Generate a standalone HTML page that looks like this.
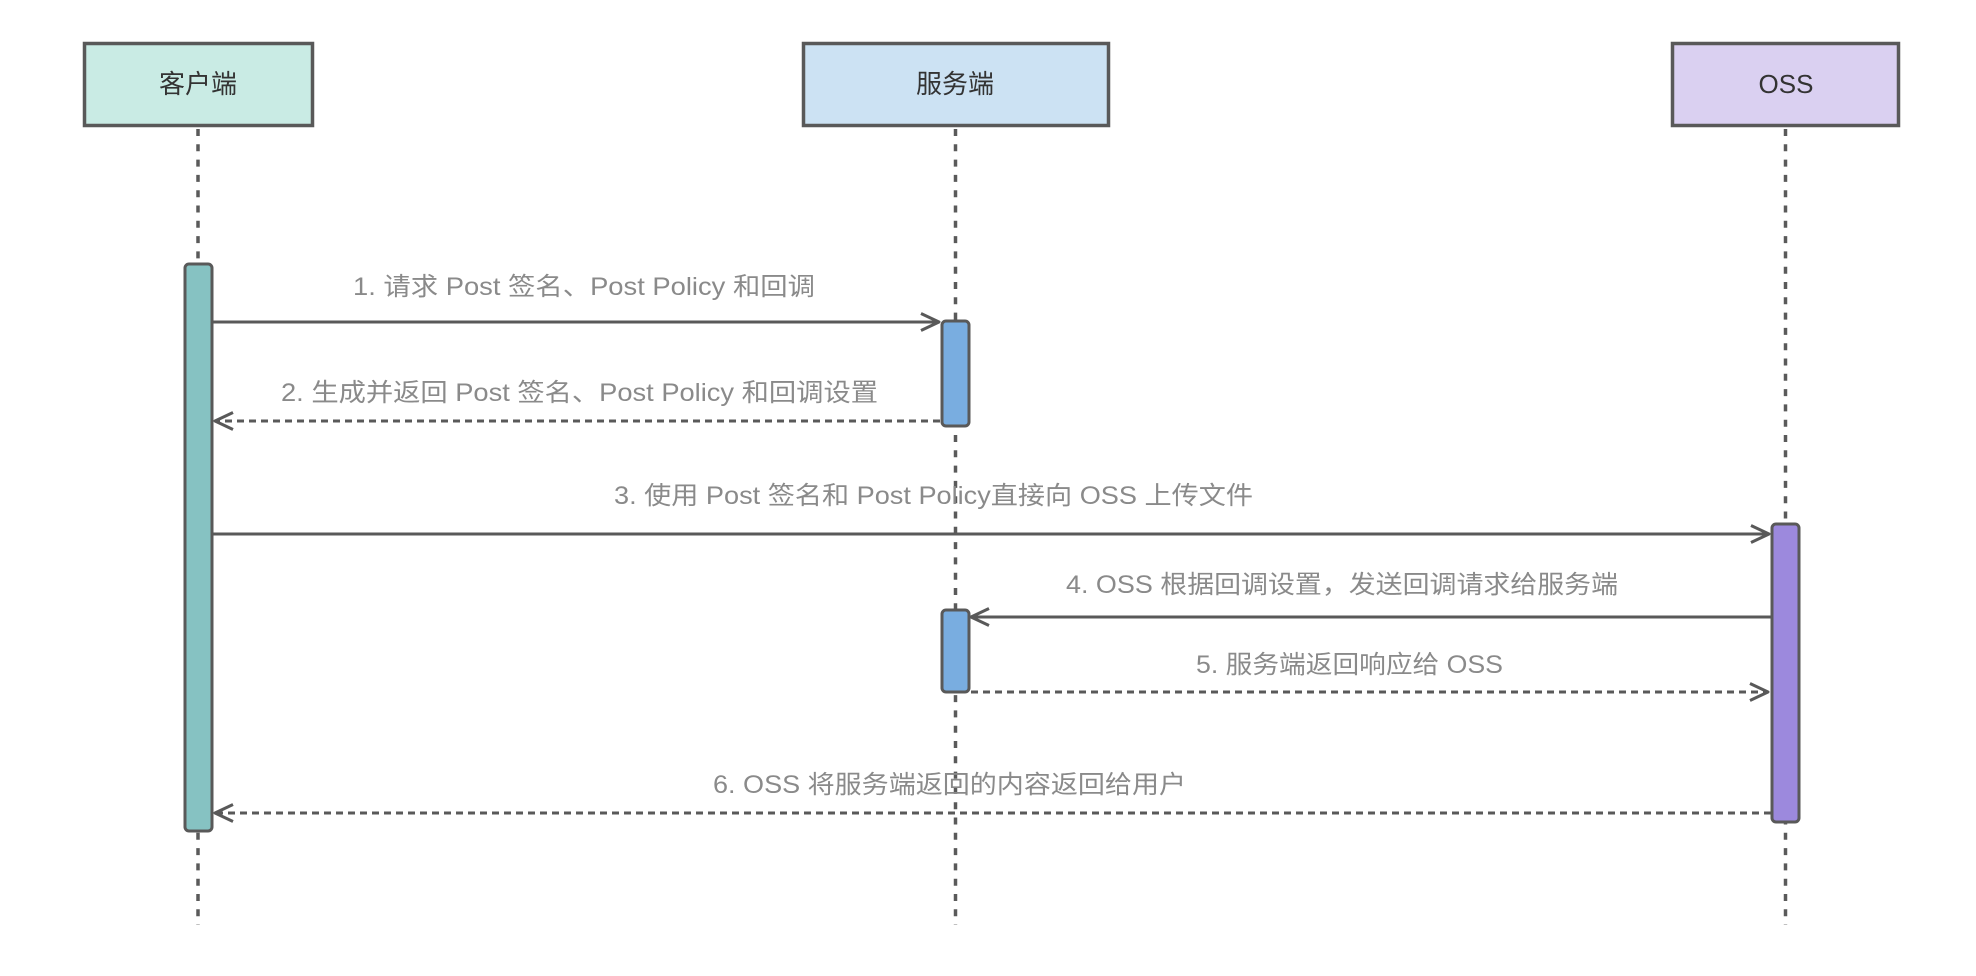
<!DOCTYPE html>
<html>
<head>
<meta charset="utf-8">
<style>
  html, body { margin: 0; padding: 0; background: #ffffff; }
  body { width: 1976px; height: 976px; overflow: hidden; }
  svg { display: block; }
  .lbl { font-family: "Liberation Sans", "Noto Sans CJK SC", sans-serif; font-size: 25px; fill: #8a8a8a; }
  .box { font-family: "Liberation Sans", "Noto Sans CJK SC", sans-serif; font-size: 26px; fill: #333333; }
</style>
</head>
<body>
<svg width="1976" height="976" viewBox="0 0 1976 976" xmlns="http://www.w3.org/2000/svg">
  <rect x="0" y="0" width="1976" height="976" fill="#ffffff"/>

  <!-- Participant boxes -->
  <rect x="84.5" y="43.5" width="228" height="82" fill="#c9ebe4" stroke="#595959" stroke-width="3.5"/>
  <rect x="803.5" y="43.5" width="305" height="82" fill="#cce2f3" stroke="#595959" stroke-width="3.5"/>
  <rect x="1672.5" y="43.5" width="226" height="82" fill="#dad0f1" stroke="#595959" stroke-width="3.5"/>

  <text class="box" x="198" y="93" text-anchor="middle">客户端</text>
  <text class="box" x="955" y="93" text-anchor="middle">服务端</text>
  <text class="box" x="1786" y="93" text-anchor="middle">OSS</text>

  <!-- Lifelines -->
  <g stroke="#5a5a5a" stroke-width="3.5" stroke-dasharray="7 8.3" fill="none">
    <line x1="198" y1="129" x2="198" y2="925"/>
    <line x1="955.5" y1="129" x2="955.5" y2="925"/>
    <line x1="1785.5" y1="129" x2="1785.5" y2="925"/>
  </g>

  <!-- Labels -->
  <text class="lbl" x="353" y="295" textLength="462" lengthAdjust="spacingAndGlyphs">1. 请求 Post 签名、Post Policy 和回调</text>
  <text class="lbl" x="281" y="401" textLength="597" lengthAdjust="spacingAndGlyphs">2. 生成并返回 Post 签名、Post Policy 和回调设置</text>
  <text class="lbl" x="614" y="504" textLength="639" lengthAdjust="spacingAndGlyphs">3. 使用 Post 签名和 Post Policy直接向 OSS 上传文件</text>
  <text class="lbl" x="1066" y="593" textLength="552" lengthAdjust="spacingAndGlyphs">4. OSS 根据回调设置，发送回调请求给服务端</text>
  <text class="lbl" x="1196" y="673" textLength="307" lengthAdjust="spacingAndGlyphs">5. 服务端返回响应给 OSS</text>
  <text class="lbl" x="713" y="793" textLength="473" lengthAdjust="spacingAndGlyphs">6. OSS 将服务端返回的内容返回给用户</text>

  <!-- Activation bars -->
  <rect x="185" y="264" width="27" height="567" rx="4" ry="4" fill="#86c2c2" stroke="#595959" stroke-width="3"/>
  <rect x="942" y="321" width="27" height="105" rx="4" ry="4" fill="#79ade0" stroke="#595959" stroke-width="3"/>
  <rect x="942" y="610" width="27" height="82" rx="4" ry="4" fill="#79ade0" stroke="#595959" stroke-width="3"/>
  <rect x="1772" y="524" width="27" height="298" rx="4" ry="4" fill="#9c89dd" stroke="#595959" stroke-width="3"/>

  <!-- Messages -->
  <g stroke="#595959" stroke-width="3" fill="none" stroke-linejoin="round" stroke-linecap="butt">
    <!-- 1 -->
    <line x1="213" y1="322" x2="938" y2="322"/>
    <polyline points="921,313.5 939,322 921,330.5"/>
    <!-- 2 -->
    <line x1="940" y1="421" x2="218" y2="421" stroke-dasharray="7 5"/>
    <polyline points="233,412.5 215,421 233,429.5"/>
    <!-- 3 -->
    <line x1="213" y1="534" x2="1768" y2="534"/>
    <polyline points="1751,525.5 1769,534 1751,542.5"/>
    <!-- 4 -->
    <line x1="1771" y1="617" x2="973" y2="617"/>
    <polyline points="989,608.5 971,617 989,625.5"/>
    <!-- 5 -->
    <line x1="971" y1="692" x2="1766" y2="692" stroke-dasharray="7 5"/>
    <polyline points="1750,683.5 1768,692 1750,700.5"/>
    <!-- 6 -->
    <line x1="1771" y1="813" x2="218" y2="813" stroke-dasharray="7 5"/>
    <polyline points="233,804.5 215,813 233,821.5"/>
  </g>
</svg>
</body>
</html>
